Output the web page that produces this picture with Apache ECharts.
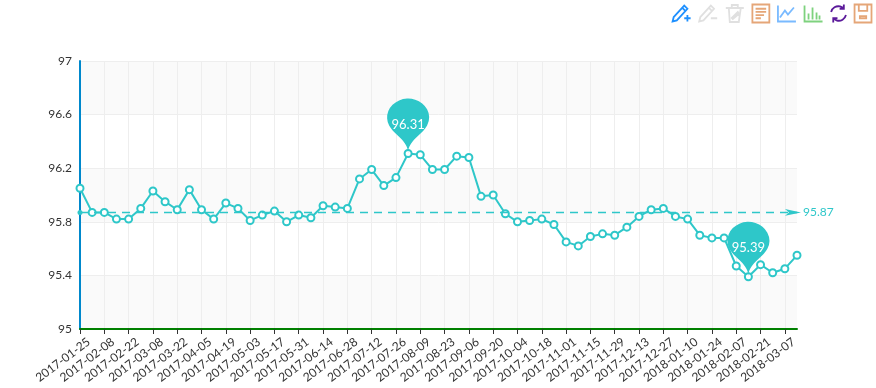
<!DOCTYPE html>
<html><head><meta charset="utf-8">
<style>html,body{margin:0;padding:0;background:#fff}#c{width:876px;height:388px}</style>
<script src="https://cdn.jsdelivr.net/npm/echarts@6/dist/echarts.min.js"></script>
</head><body><div id="c"></div>
<script>
const dates = ['2017-01-25','2017-02-01','2017-02-08','2017-02-15','2017-02-22','2017-03-01','2017-03-08','2017-03-15','2017-03-22','2017-03-29','2017-04-05','2017-04-12','2017-04-19','2017-04-26','2017-05-03','2017-05-10','2017-05-17','2017-05-24','2017-05-31','2017-06-07','2017-06-14','2017-06-21','2017-06-28','2017-07-05','2017-07-12','2017-07-19','2017-07-26','2017-08-02','2017-08-09','2017-08-16','2017-08-23','2017-08-30','2017-09-06','2017-09-13','2017-09-20','2017-09-27','2017-10-04','2017-10-11','2017-10-18','2017-10-25','2017-11-01','2017-11-08','2017-11-15','2017-11-22','2017-11-29','2017-12-06','2017-12-13','2017-12-20','2017-12-27','2018-01-03','2018-01-10','2018-01-17','2018-01-24','2018-01-31','2018-02-07','2018-02-14','2018-02-21','2018-02-28','2018-03-07','2018-03-14'];
const values = [96.05,95.87,95.87,95.82,95.82,95.90,96.03,95.95,95.89,96.04,95.89,95.82,95.94,95.90,95.81,95.85,95.88,95.80,95.85,95.83,95.92,95.91,95.90,96.12,96.19,96.07,96.13,96.31,96.30,96.19,96.19,96.29,96.28,95.99,96.00,95.86,95.80,95.81,95.82,95.78,95.65,95.62,95.69,95.71,95.70,95.76,95.84,95.89,95.90,95.84,95.82,95.70,95.68,95.68,95.47,95.39,95.48,95.42,95.45,95.55];
const averageValue = 95.87;
const yTicks = [95,95.4,95.8,96.2,96.6,97];
const teal = '#2ec7c9';
const ink = '#333';

const tool = (path, color) => ({show:true, title:'', icon:'path://'+path, iconStyle:{color:'none', borderColor:color, borderWidth:1.8}, onclick(){}});
const pencil = 'M2 14L12 3L15 6L5 17L1 18ZM10 5L13 8';
const chart = echarts.init(document.getElementById('c'));
chart.setOption({
  animation:false,
  color:[teal],
  textStyle:{fontFamily:'Lato, sans-serif'},
  grid:{left:80,right:79,top:61,bottom:59},
  toolbox:{show:true,right:-13,top:-13,itemSize:18,itemGap:3.6,
    feature:{
      myMark:tool(pencil+'M12 15H18M15 12V18','#1e90ff'),
      myUndo:tool(pencil+'M12 15H18','#e0e0e0'),
      myClear:tool('M4 4H16L14 18H5ZM1 4H19M7 4V1H13V4M7 14L13 8L14 10L8 15Z','#e0e0e0'),
      myView:tool('M1 1H17V18H1ZM4 5H14M4 8H14M4 11H12M4 14H9','#e5a678'),
      myLine:tool('M1 1V17H19M3 13L8 6L11 10L17 3','#79baff'),
      myBar:tool('M1 1V17H19M5 15V9M9 15V3M13 15V8M16 15V11','#7ed27e'),
      myRestore:tool('M3 8A7 7 0 0 1 15 5M15 1V5H11M17 11A7 7 0 0 1 5 14M5 18V14H9','#5b1a9a'),
      mySave:tool('M1 1H17V18H1ZM5 1V7H13V1M6 12H12V14H6Z','#e5a678')
    }},
  xAxis:{type:'category',boundaryGap:false,data:dates,
    axisLine:{lineStyle:{color:'#008000',width:2}},
    axisTick:{interval:1,length:5,lineStyle:{color:ink}},
    axisLabel:{interval:1,rotate:37,color:ink,fontSize:12,margin:18,align:'right',verticalAlign:'middle',padding:[0,-11,0,0]},
    splitLine:{show:true,interval:1,lineStyle:{color:'#eeeeee'}}},
  yAxis:{type:'value',min:95,max:97,
    axisLine:{show:true,lineStyle:{color:'#0088cc',width:2}},
    axisTick:{show:false,customValues:yTicks},
    axisLabel:{color:ink,fontSize:12,margin:8,customValues:yTicks},
    splitLine:{show:true,lineStyle:{color:'#eeeeee'}},
    splitArea:{show:true,areaStyle:{color:['#fafafa','#ffffff']}}},
  series:[{type:'line',data:values,symbol:'emptyCircle',symbolSize:7,
    lineStyle:{width:2,color:teal},itemStyle:{color:teal,borderWidth:2},
    markPoint:{symbol:'pin',symbolSize:[70,63],data:[{type:'max'},{type:'min'}],
      label:{color:'#fff',fontSize:13,offset:[0,4]},itemStyle:{color:teal}},
    markLine:{precision:2,symbol:['circle','arrow'],symbolSize:[5,16],symbolOffset:[[0,0],[0,-4]],data:[{yAxis:averageValue}],
      lineStyle:{color:teal,type:[8,6],width:1.3},
      label:{color:teal,fontSize:12,distance:6}}}]
});
</script></body></html>
